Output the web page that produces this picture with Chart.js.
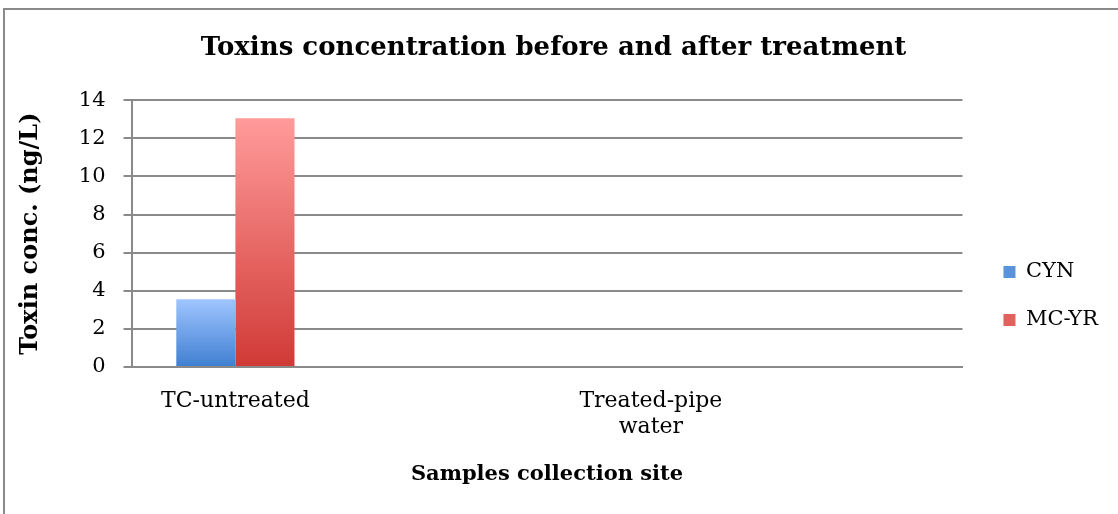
<!DOCTYPE html>
<html>
<head>
<meta charset="utf-8">
<script src="https://cdn.jsdelivr.net/npm/chart.js@4/dist/chart.umd.min.js"></script>
<style>
html,body{margin:0;padding:0;background:#fff;}
#wrap{position:relative;width:1118px;height:514px;overflow:hidden;}
#frame{position:absolute;left:3px;top:8px;width:1200px;height:600px;border-left:2px solid #8a8a8a;border-top:2px solid #8a8a8a;pointer-events:none;}
canvas{position:absolute;left:0;top:0;}
</style>
</head>
<body>
<div id="wrap">
<canvas id="c" width="1118" height="514"></canvas>
<div id="frame"></div>
</div>
<script>
const categories = ['TC-untreated', '', ['Treated-pipe', 'water'], ''];
const cynValues = [3.55, null, 0, null];
const mcyrValues = [13.05, null, 0, null];
const yTicks = [0, 2, 4, 6, 8, 10, 12, 14];

const FONT = '"DejaVu Serif", "Liberation Serif", serif';

function grad(ctx, top, bottom) {
  const chart = ctx.chart;
  const y = chart.scales && chart.scales.y;
  if (!chart.chartArea || !y) return bottom;
  const v = ctx.raw;
  if (v == null) return bottom;
  const py = y.getPixelForValue(v);
  const pb = y.getPixelForValue(0);
  if (!isFinite(py) || !isFinite(pb) || py === pb) return bottom;
  const g = chart.ctx.createLinearGradient(0, py, 0, pb);
  g.addColorStop(0, top);
  g.addColorStop(1, bottom);
  return g;
}

const legendShift = {
  id: 'legendShift',
  afterLayout(chart) {
    const lg = chart.legend;
    if (lg) {
      lg.left += 14; lg.right += 14;
      const h = lg.bottom - lg.top;
      const mid = 296;
      lg.top = mid - h / 2; lg.bottom = mid + h / 2;
    }
  }
};

new Chart(document.getElementById('c'), {
  type: 'bar',
  plugins: [legendShift],
  data: {
    labels: categories,
    datasets: [
      {
        label: 'CYN',
        data: cynValues,
        backgroundColor: (ctx) => ctx.type === 'data' ? grad(ctx, '#9fc5ff', '#3f7fd1') : '#5b92dc',
        borderWidth: 0,
        categoryPercentage: 0.569,
        barPercentage: 1.0
      },
      {
        label: 'MC-YR',
        data: mcyrValues,
        backgroundColor: (ctx) => ctx.type === 'data' ? grad(ctx, '#ff9b9a', '#d03a36') : '#e0615e',
        borderWidth: 0,
        categoryPercentage: 0.569,
        barPercentage: 1.0
      }
    ]
  },
  options: {
    responsive: false,
    animation: false,
    devicePixelRatio: 1,
    layout: { padding: { left: 13, right: 24, top: 26, bottom: 27 } },
    plugins: {
      title: {
        display: true,
        text: 'Toxins concentration before and after treatment',
        color: '#000',
        font: { family: FONT, size: 26, weight: 'bold' },
        padding: { top: 7, bottom: 36 }
      },
      legend: {
        position: 'right',
        align: 'center',
        labels: {
          color: '#000',
          font: { family: FONT, size: 21 },
          boxWidth: 12,
          boxHeight: 12,
          padding: 27,
          generateLabels: (chart) => chart.data.datasets.map((ds, i) => ({
            text: ds.label,
            fillStyle: i === 0 ? '#5b92dc' : '#e0615e',
            strokeStyle: 'transparent',
            lineWidth: 0,
            datasetIndex: i
          }))
        }
      },
      tooltip: { enabled: false }
    },
    scales: {
      x: {
        grid: { display: false, drawTicks: false },
        border: { display: true, color: '#8a8a8a', width: 2 },
        ticks: {
          color: '#000',
          font: { family: FONT, size: 22 },
          maxRotation: 0,
          autoSkip: false,
          padding: 21
        },
        title: {
          display: true,
          text: 'Samples collection site',
          color: '#000',
          font: { family: FONT, size: 21, weight: 'bold' },
          padding: { top: 0, bottom: 0 }
        }
      },
      y: {
        min: 0,
        max: 14,
        afterBuildTicks: (axis) => { axis.ticks = yTicks.map(v => ({ value: v })); },
        grid: { color: '#8a8a8a', lineWidth: 2, drawTicks: true, tickLength: 8 },
        border: { display: true, color: '#8a8a8a', width: 2 },
        ticks: {
          color: '#000',
          font: { family: FONT, size: 21 },
          padding: 18
        },
        title: {
          display: true,
          text: 'Toxin conc. (ng/L)',
          color: '#000',
          font: { family: FONT, size: 24, weight: 'bold' },
          padding: { top: 3, bottom: 16 }
        }
      }
    }
  }
});
</script>
</body>
</html>
